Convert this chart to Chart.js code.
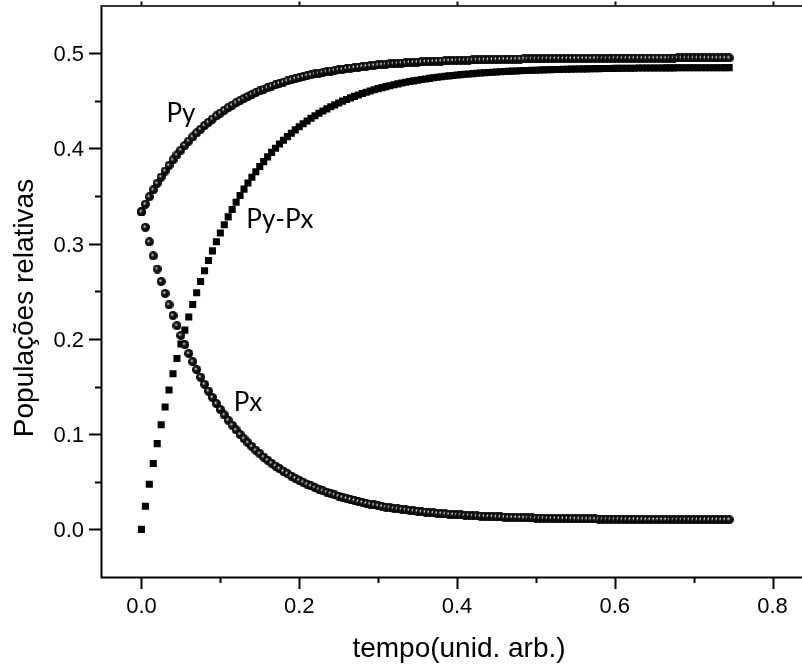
<!DOCTYPE html>
<html>
<head>
<meta charset="utf-8">
<script src="https://cdn.jsdelivr.net/npm/chart.js@4.4.1/dist/chart.umd.min.js"></script>
<style>
html,body{margin:0;padding:0;overflow:hidden;background:#fff;width:802px;height:668px;}
#wrap{position:absolute;left:0;top:0;width:830px;height:668px;}
</style>
</head>
<body>
<div id="wrap"><canvas id="c" width="830" height="668"></canvas></div>
<script>
// time (unid. arb.)
const tempo = [
0,0.005,0.01,0.015,0.02,0.025,0.03,0.035,0.04,0.045,
0.05,0.055,0.06,0.065,0.07,0.075,0.08,0.085,0.09,0.095,
0.1,0.105,0.11,0.115,0.12,0.125,0.13,0.135,0.14,0.145,
0.15,0.155,0.16,0.165,0.17,0.175,0.18,0.185,0.19,0.195,
0.2,0.205,0.21,0.215,0.22,0.225,0.23,0.235,0.24,0.245,
0.25,0.255,0.26,0.265,0.27,0.275,0.28,0.285,0.29,0.295,
0.3,0.305,0.31,0.315,0.32,0.325,0.33,0.335,0.34,0.345,
0.35,0.355,0.36,0.365,0.37,0.375,0.38,0.385,0.39,0.395,
0.4,0.405,0.41,0.415,0.42,0.425,0.43,0.435,0.44,0.445,
0.45,0.455,0.46,0.465,0.47,0.475,0.48,0.485,0.49,0.495,
0.5,0.505,0.51,0.515,0.52,0.525,0.53,0.535,0.54,0.545,
0.55,0.555,0.56,0.565,0.57,0.575,0.58,0.585,0.59,0.595,
0.6,0.605,0.61,0.615,0.62,0.625,0.63,0.635,0.64,0.645,
0.65,0.655,0.66,0.665,0.67,0.675,0.68,0.685,0.69,0.695,
0.7,0.705,0.71,0.715,0.72,0.725,0.73,0.735,0.74,0.745];

const Px = [
0.3333,0.3171,0.3018,0.2872,0.2733,0.2602,0.2477,0.2358,0.2245,0.2138,
0.2036,0.1939,0.1847,0.1760,0.1677,0.1598,0.1523,0.1452,0.1384,0.1320,
0.1259,0.1201,0.1146,0.1094,0.1044,0.0997,0.0952,0.0909,0.0869,0.0830,
0.0794,0.0759,0.0726,0.0695,0.0665,0.0637,0.0610,0.0585,0.0560,0.0537,
0.0515,0.0495,0.0475,0.0456,0.0438,0.0421,0.0405,0.0390,0.0376,0.0362,
0.0349,0.0336,0.0325,0.0313,0.0303,0.0292,0.0283,0.0274,0.0265,0.0257,
0.0249,0.0241,0.0234,0.0228,0.0221,0.0215,0.0209,0.0204,0.0199,0.0194,
0.0189,0.0185,0.0180,0.0176,0.0173,0.0169,0.0166,0.0162,0.0159,0.0156,
0.0153,0.0151,0.0148,0.0146,0.0143,0.0141,0.0139,0.0137,0.0135,0.0134,
0.0132,0.0130,0.0129,0.0127,0.0126,0.0125,0.0124,0.0122,0.0121,0.0120,
0.0119,0.0118,0.0117,0.0116,0.0116,0.0115,0.0114,0.0113,0.0113,0.0112,
0.0111,0.0111,0.0110,0.0110,0.0109,0.0109,0.0108,0.0108,0.0108,0.0107,
0.0107,0.0107,0.0106,0.0106,0.0106,0.0105,0.0105,0.0105,0.0105,0.0104,
0.0104,0.0104,0.0104,0.0104,0.0103,0.0103,0.0103,0.0103,0.0103,0.0103,
0.0102,0.0102,0.0102,0.0102,0.0102,0.0102,0.0102,0.0102,0.0102,0.0102];

const Py = [
0.3333,0.3414,0.3491,0.3564,0.3633,0.3699,0.3762,0.3821,0.3878,0.3931,
0.3982,0.4031,0.4077,0.4120,0.4162,0.4201,0.4239,0.4274,0.4308,0.4340,
0.4371,0.4400,0.4427,0.4453,0.4478,0.4502,0.4524,0.4545,0.4566,0.4585,
0.4603,0.4620,0.4637,0.4653,0.4667,0.4682,0.4695,0.4708,0.4720,0.4731,
0.4742,0.4753,0.4763,0.4772,0.4781,0.4789,0.4797,0.4805,0.4812,0.4819,
0.4826,0.4832,0.4838,0.4843,0.4849,0.4854,0.4859,0.4863,0.4868,0.4872,
0.4876,0.4879,0.4883,0.4886,0.4889,0.4892,0.4895,0.4898,0.4901,0.4903,
0.4905,0.4908,0.4910,0.4912,0.4914,0.4915,0.4917,0.4919,0.4920,0.4922,
0.4923,0.4925,0.4926,0.4927,0.4928,0.4929,0.4930,0.4931,0.4932,0.4933,
0.4934,0.4935,0.4936,0.4936,0.4937,0.4938,0.4938,0.4939,0.4939,0.4940,
0.4940,0.4941,0.4941,0.4942,0.4942,0.4943,0.4943,0.4943,0.4944,0.4944,
0.4944,0.4945,0.4945,0.4945,0.4945,0.4946,0.4946,0.4946,0.4946,0.4946,
0.4947,0.4947,0.4947,0.4947,0.4947,0.4947,0.4948,0.4948,0.4948,0.4948,
0.4948,0.4948,0.4948,0.4948,0.4948,0.4948,0.4949,0.4949,0.4949,0.4949,
0.4949,0.4949,0.4949,0.4949,0.4949,0.4949,0.4949,0.4949,0.4949,0.4949];

const PyMinusPx = [
0.0000,0.0243,0.0473,0.0692,0.0900,0.1098,0.1285,0.1463,0.1633,0.1794,
0.1946,0.2092,0.2230,0.2361,0.2485,0.2603,0.2716,0.2822,0.2924,0.3020,
0.3112,0.3199,0.3281,0.3359,0.3434,0.3505,0.3572,0.3636,0.3697,0.3754,
0.3809,0.3861,0.3911,0.3958,0.4002,0.4045,0.4085,0.4123,0.4159,0.4194,
0.4227,0.4258,0.4288,0.4316,0.4342,0.4368,0.4392,0.4415,0.4437,0.4457,
0.4477,0.4496,0.4513,0.4530,0.4546,0.4561,0.4576,0.4589,0.4603,0.4615,
0.4627,0.4638,0.4648,0.4658,0.4668,0.4677,0.4686,0.4694,0.4702,0.4709,
0.4716,0.4723,0.4729,0.4735,0.4741,0.4747,0.4752,0.4757,0.4761,0.4766,
0.4770,0.4774,0.4778,0.4781,0.4785,0.4788,0.4791,0.4794,0.4797,0.4799,
0.4802,0.4804,0.4807,0.4809,0.4811,0.4813,0.4815,0.4817,0.4818,0.4820,
0.4821,0.4823,0.4824,0.4825,0.4827,0.4828,0.4829,0.4830,0.4831,0.4832,
0.4833,0.4834,0.4835,0.4835,0.4836,0.4837,0.4837,0.4838,0.4839,0.4839,
0.4840,0.4840,0.4841,0.4841,0.4842,0.4842,0.4843,0.4843,0.4843,0.4844,
0.4844,0.4844,0.4844,0.4845,0.4845,0.4845,0.4846,0.4846,0.4846,0.4846,
0.4846,0.4847,0.4847,0.4847,0.4847,0.4847,0.4847,0.4847,0.4848,0.4848];

// ticks
const xMajorTicks = [0, 0.2, 0.4, 0.6, 0.8];
const xMajorLabels = ['0.0', '0.2', '0.4', '0.6', '0.8'];
const xMinorTicks = [0.1, 0.3, 0.5, 0.7];
const yMajorTicks = [0, 0.1, 0.2, 0.3, 0.4, 0.5];
const yMajorLabels = ['0.0', '0.1', '0.2', '0.3', '0.4', '0.5'];
const yMinorTicks = [0.05, 0.15, 0.25, 0.35, 0.45];

// axis titles and curve labels
const xTitle = 'tempo(unid. arb.)';
const yTitle = 'Populações relativas';
const curveLabels = ['Py', 'Py-Px', 'Px'];
const curveLabelX = [0.050, 0.1755, 0.135];
const curveLabelY = [0.436, 0.3247, 0.1328];

function sphere(d) {
  const c = document.createElement('canvas');
  c.width = d; c.height = d;
  const g = c.getContext('2d');
  const r = d / 2;
  const grad = g.createRadialGradient(r * 0.75, r * 0.75, 0, r, r, r);
  grad.addColorStop(0, '#f4f4f4');
  grad.addColorStop(0.15, '#9a9a9a');
  grad.addColorStop(0.4, '#1a1a1a');
  grad.addColorStop(1, '#000000');
  g.fillStyle = grad;
  g.beginPath();
  g.arc(r, r, r, 0, Math.PI * 2);
  g.fill();
  return c;
}
const ball = sphere(9);

const toPts = (ys) => tempo.map((t, i) => ({x: t, y: ys[i]}));

const axesPlugin = {
  id: 'axesPlugin',
  afterDraw(chart) {
    const ctx = chart.ctx;
    const xs = chart.scales.x, ys = chart.scales.y;
    const a = chart.chartArea;
    ctx.save();
    ctx.strokeStyle = '#000';
    ctx.fillStyle = '#000';
    // frame
    ctx.lineWidth = 2;
    ctx.beginPath();
    ctx.moveTo(a.left - 0.5, a.top); ctx.lineTo(a.left - 0.5, a.bottom + 1);
    ctx.moveTo(a.left - 1.5, a.bottom + 0.5); ctx.lineTo(a.right, a.bottom + 0.5);
    ctx.stroke();
    ctx.strokeStyle = '#333';
    ctx.beginPath();
    ctx.moveTo(a.left - 1.5, a.top + 0.5); ctx.lineTo(a.right, a.top + 0.5);
    ctx.stroke();
    ctx.strokeStyle = '#000';
    // x ticks
    xMajorTicks.forEach(v => {
      const px = Math.round(xs.getPixelForValue(v)) + 0.5;
      ctx.beginPath(); ctx.moveTo(px, a.bottom); ctx.lineTo(px, a.bottom + 12); ctx.stroke();
      ctx.beginPath(); ctx.moveTo(px, a.top); ctx.lineTo(px, a.top - 4); ctx.stroke();
    });
    xMinorTicks.forEach(v => {
      const px = Math.round(xs.getPixelForValue(v)) + 0.5;
      ctx.beginPath(); ctx.moveTo(px, a.bottom); ctx.lineTo(px, a.bottom + 6); ctx.stroke();
    });
    // y ticks
    yMajorTicks.forEach(v => {
      const py = Math.round(ys.getPixelForValue(v)) + 0.5;
      ctx.beginPath(); ctx.moveTo(a.left, py); ctx.lineTo(a.left - 13, py); ctx.stroke();
    });
    yMinorTicks.forEach(v => {
      const py = Math.round(ys.getPixelForValue(v)) + 0.5;
      ctx.beginPath(); ctx.moveTo(a.left, py); ctx.lineTo(a.left - 7, py); ctx.stroke();
    });
    // tick labels
    ctx.font = '22px "Liberation Sans", Arial, sans-serif';
    ctx.textAlign = 'center';
    ctx.textBaseline = 'alphabetic';
    xMajorTicks.forEach((v, i) => {
      ctx.fillText(xMajorLabels[i], xs.getPixelForValue(v), a.bottom + 36);
    });
    ctx.textAlign = 'right';
    yMajorTicks.forEach((v, i) => {
      ctx.fillText(yMajorLabels[i], a.left - 18, ys.getPixelForValue(v) + 8);
    });
    // axis titles
    ctx.font = '28px "Liberation Sans", Arial, sans-serif';
    ctx.textAlign = 'center';
    ctx.fillText(xTitle, 459, 657);
    ctx.save();
    ctx.translate(33, 308);
    ctx.rotate(-Math.PI / 2);
    ctx.fillText(yTitle, 0, 0);
    ctx.restore();
    // curve labels
    ctx.font = '26px Lato, "DejaVu Sans", sans-serif';
    ctx.textBaseline = 'middle';
    curveLabels.forEach((s, i) => {
      ctx.fillText(s, xs.getPixelForValue(curveLabelX[i]), ys.getPixelForValue(curveLabelY[i]));
    });
    ctx.restore();
  }
};

new Chart(document.getElementById('c'), {
  type: 'scatter',
  data: {
    datasets: [
      {label: 'Py-Px', data: toPts(PyMinusPx), pointStyle: 'rect', pointRadius: 5, pointBorderWidth: 0, backgroundColor: '#000', borderColor: '#000', order: 3},
      {label: 'Py', data: toPts(Py), pointStyle: ball, pointRadius: 4.5, order: 2},
      {label: 'Px', data: toPts(Px), pointStyle: ball, pointRadius: 4.5, order: 1}
    ]
  },
  options: {
    responsive: false,
    animation: false,
    devicePixelRatio: 1,
    layout: {padding: {left: 102, top: 2, right: 18, bottom: 91}},
    plugins: {legend: {display: false}, tooltip: {enabled: false}},
    scales: {
      x: {type: 'linear', display: false, min: -0.05, max: 0.85},
      y: {type: 'linear', display: false, min: -0.05, max: 0.55}
    }
  },
  plugins: [axesPlugin]
});
</script>
</body>
</html>
